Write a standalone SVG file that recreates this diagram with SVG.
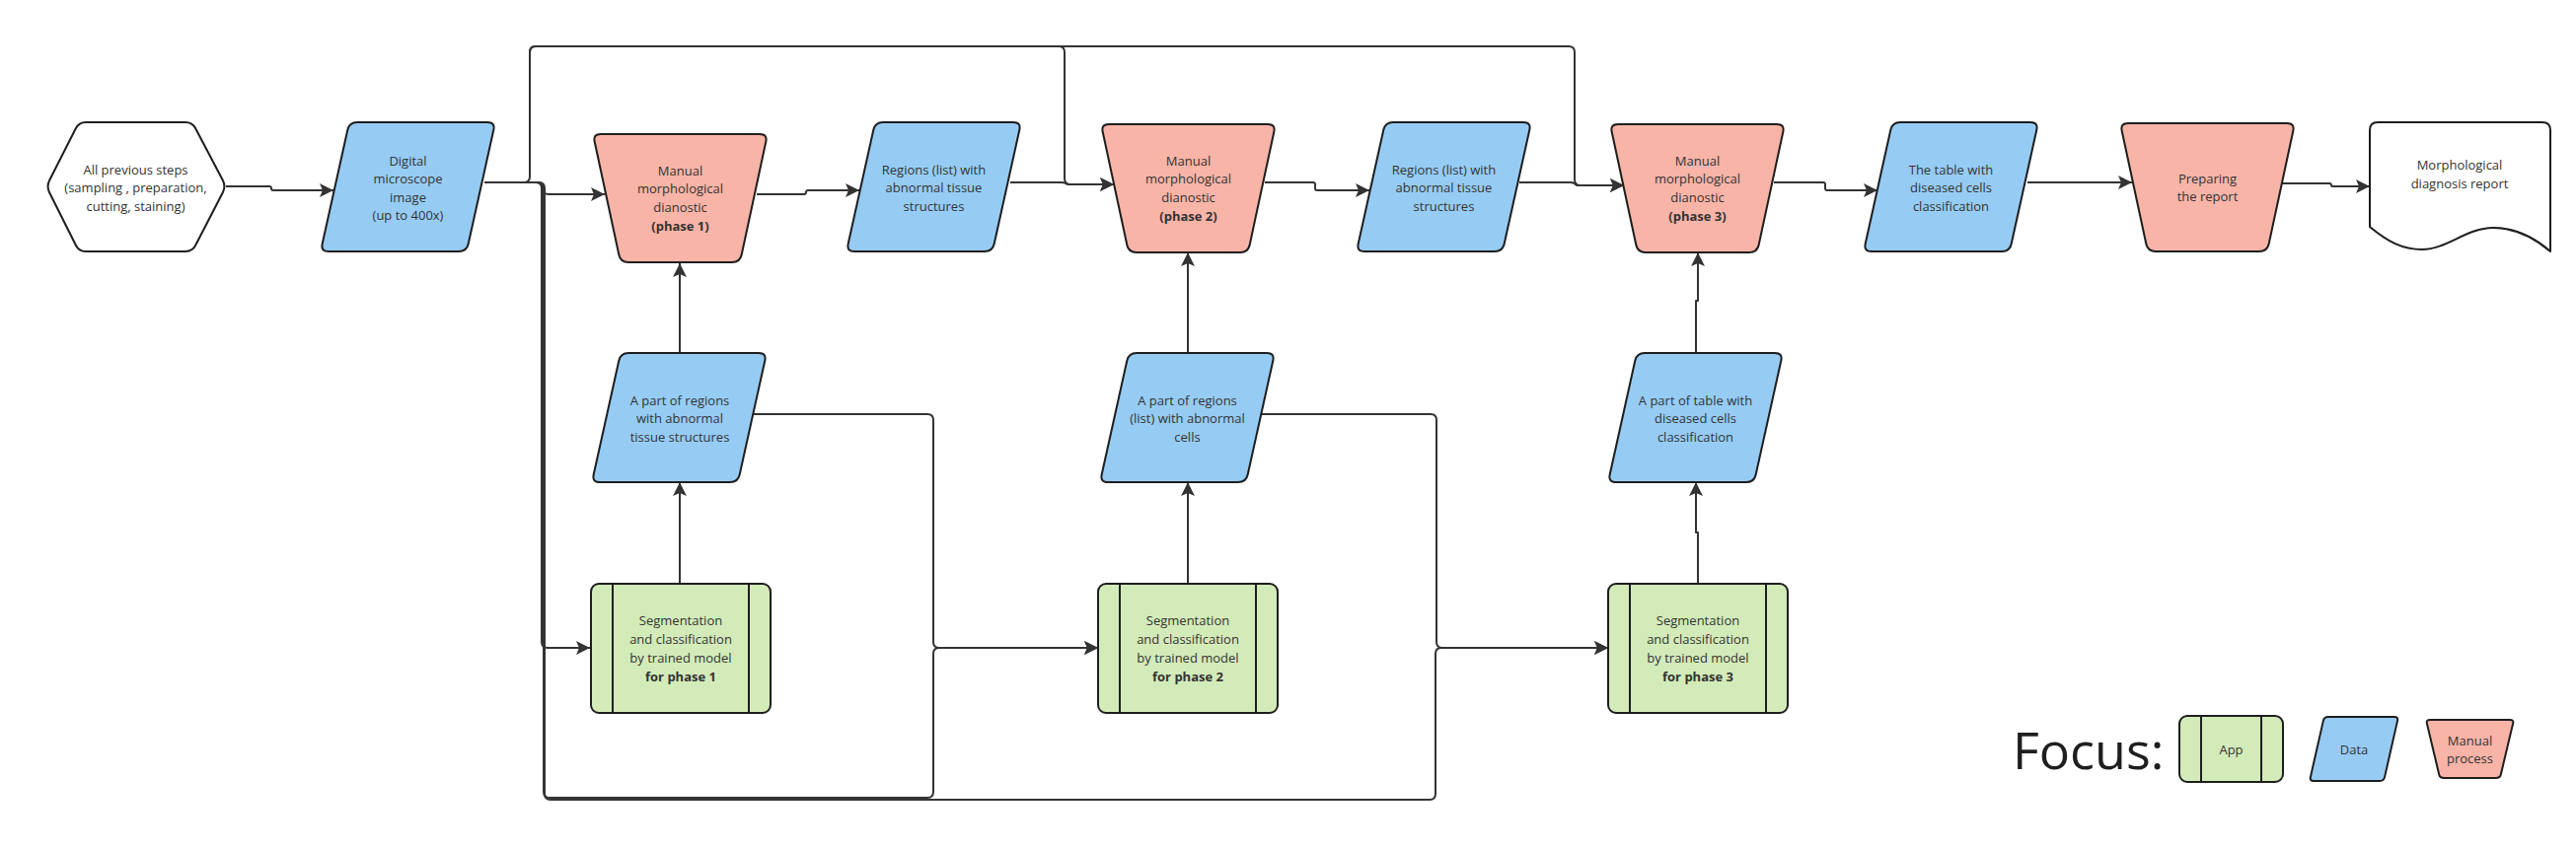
<svg xmlns="http://www.w3.org/2000/svg" xmlns:xlink="http://www.w3.org/1999/xlink" width="2611" height="861" viewBox="0 0 2611 861">
<style>
  .shape{stroke:#1e1e1e;stroke-width:2;stroke-linejoin:round}
  .data{fill:#96CCF4}
  .manual{fill:#F8B4A7}
  .app{fill:#D3EBB9}
  .plain{fill:#ffffff}
  .t{font-family:"Open Sans","Liberation Sans",sans-serif;font-size:13px;fill:#333333;text-anchor:middle}
  .b{font-weight:bold}
  .conn path{fill:none;stroke:#333333;stroke-width:2;stroke-linejoin:round}
  .arr{marker-end:url(#ah)}
</style>
<defs>
  <marker id="ah" markerWidth="16" markerHeight="16" refX="14" refY="7" orient="auto" markerUnits="userSpaceOnUse">
    <path d="M0,0 L14,7 L0,14 L3,7 Z" fill="#333333"/>
  </marker>
  <path id="para" vector-effect="non-scaling-stroke" d="M37,0 L169,0 Q177,0 175.3,7.8 L149.7,123.2 Q148,131 140,131 L8,131 Q0,131 1.7,123.2 L27.3,7.8 Q29,0 37,0 Z"/>
  <path id="trap" vector-effect="non-scaling-stroke" d="M8,0 L169,0 Q177,0 175.3,7.8 L150.7,122.2 Q149,130 141,130 L36,130 Q28,130 26.3,122.2 L1.7,7.8 Q0,0 8,0 Z"/>
</defs>
<rect width="2611" height="861" fill="#ffffff"/>

<g id="connectors" class="conn">
  <path class="arr" d="M229,189 H273 Q275,189 275,191 Q275,193 277,193 H338"/>
  <path class="arr" d="M491,185 H544 Q550,185 550,191 Q550,197 556,197 H613"/>
  <path class="arr" d="M491,185 H543 Q549,185 549,191 V651 Q549,657 555,657 H598"/>
  <path class="arr" d="M491,185 H545 Q551,185 551,191 V803 Q551,809 557,809 H940 Q946,809 946,803 V663 Q946,657 952,657 H1113"/>
  <path class="arr" d="M491,185 H546 Q552,185 552,191 V805 Q552,811 558,811 H1449 Q1455,811 1455,805 V663 Q1455,657 1461,657 H1630"/>
  <path class="arr" d="M491,185 H531 Q537,185 537,179 V53 Q537,47 543,47 H1073 Q1079,47 1079,53 V181 Q1079,187 1085,187 H1129"/>
  <path class="arr" d="M537,60 V53 Q537,47 543,47 H1590 Q1596,47 1596,53 V182 Q1596,188 1602,188 H1646"/>
  <path class="arr" d="M767,197 H815 Q817,197 817,195 Q817,193 819,193 H871"/>
  <path class="arr" d="M1024,185 H1076 Q1080,185 1082,187 H1129"/>
  <path class="arr" d="M1282,185 H1331 Q1333,185 1333,187 V191 Q1333,193 1335,193 H1388"/>
  <path class="arr" d="M1540,185 H1592 Q1596,185 1598,188 H1646"/>
  <path class="arr" d="M1798,185 H1848 Q1850,185 1850,187 V191 Q1850,193 1852,193 H1903"/>
  <path class="arr" d="M2055,185 H2161"/>
  <path class="arr" d="M2313,186 H2361 Q2363,186 2363,188 Q2363,189 2365,189 H2402"/>
  <path class="arr" d="M689,358 V267"/>
  <path class="arr" d="M689,592 V489"/>
  <path class="arr" d="M764,420 H940 Q946,420 946,426 V651 Q946,657 952,657 H1113"/>
  <path class="arr" d="M1204,358 V256"/>
  <path class="arr" d="M1204,592 V489"/>
  <path class="arr" d="M1279,420 H1450 Q1456,420 1456,426 V651 Q1456,657 1462,657 H1630"/>
  <path class="arr" d="M1721,592 V540 H1719 V489"/>
  <path class="arr" d="M1719,358 V305 H1721 V256"/>
</g>

<g id="n-previous">
  <path class="shape plain" d="M87,124 L188,124 Q195,124 198.2,130.2 L225.8,182.8 Q229,189 225.8,195.2 L198.2,248.8 Q195,255 188,255 L87,255 Q80,255 76.9,248.7 L50.1,195.3 Q47,189 50.2,182.8 L76.8,130.2 Q80,124 87,124 Z"/>
  <text class="t" x="137.5" y="176.5">All previous steps</text>
  <text class="t" x="137.5" y="195">(sampling , preparation,</text>
  <text class="t" x="137.5" y="213.5">cutting, staining)</text>
</g>

<g id="n-digital">
  <use href="#para" class="shape data" transform="translate(325,124)"/>
  <text class="t" x="413.5" y="167.5">Digital</text>
  <text class="t" x="413.5" y="186">microscope</text>
  <text class="t" x="413.5" y="204.5">image</text>
  <text class="t" x="413.5" y="223">(up to 400x)</text>
</g>

<g id="n-phase1">
  <use href="#trap" class="shape manual" transform="translate(601,136)"/>
  <text class="t" x="689.5" y="177.5">Manual</text>
  <text class="t" x="689.5" y="196">morphological</text>
  <text class="t" x="689.5" y="214.5">dianostic</text>
  <text class="t b" x="689.5" y="233.5">(phase 1)</text>
</g>

<g id="n-regions1">
  <use href="#para" class="shape data" transform="translate(858,124)"/>
  <text class="t" x="946.5" y="176.5">Regions (list) with</text>
  <text class="t" x="946.5" y="195">abnormal tissue</text>
  <text class="t" x="946.5" y="213.5">structures</text>
</g>

<g id="n-phase2">
  <use href="#trap" class="shape manual" transform="translate(1116,126)"/>
  <text class="t" x="1204.5" y="167.5">Manual</text>
  <text class="t" x="1204.5" y="186">morphological</text>
  <text class="t" x="1204.5" y="204.5">dianostic</text>
  <text class="t b" x="1204.5" y="223.5">(phase 2)</text>
</g>

<g id="n-regions2">
  <use href="#para" class="shape data" transform="translate(1375,124)"/>
  <text class="t" x="1463.5" y="176.5">Regions (list) with</text>
  <text class="t" x="1463.5" y="195">abnormal tissue</text>
  <text class="t" x="1463.5" y="213.5">structures</text>
</g>

<g id="n-phase3">
  <use href="#trap" class="shape manual" transform="translate(1632,126)"/>
  <text class="t" x="1720.5" y="167.5">Manual</text>
  <text class="t" x="1720.5" y="186">morphological</text>
  <text class="t" x="1720.5" y="204.5">dianostic</text>
  <text class="t b" x="1720.5" y="223.5">(phase 3)</text>
</g>

<g id="n-table">
  <use href="#para" class="shape data" transform="translate(1889,124)"/>
  <text class="t" x="1977.5" y="176.5">The table with</text>
  <text class="t" x="1977.5" y="195">diseased cells</text>
  <text class="t" x="1977.5" y="213.5">classification</text>
</g>

<g id="n-preparing">
  <use href="#trap" class="shape manual" transform="translate(2149,125)"/>
  <text class="t" x="2237.5" y="185.5">Preparing</text>
  <text class="t" x="2237.5" y="204">the report</text>
</g>

<g id="n-report">
  <path class="shape plain" d="M2402,132 Q2402,124 2410,124 L2577,124 Q2585,124 2585,132 L2585,255 C2570,242 2550,231 2527,231 C2500,231 2480,253 2455,253 C2435,253 2420,245 2402,230 Z"/>
  <text class="t" x="2493" y="171.5">Morphological</text>
  <text class="t" x="2493" y="190.5">diagnosis report</text>
</g>

<g id="n-part1">
  <use href="#para" class="shape data" transform="translate(600,358)"/>
  <text class="t" x="689" y="410.5">A part of regions</text>
  <text class="t" x="689" y="429">with abnormal</text>
  <text class="t" x="689" y="447.5">tissue structures</text>
</g>

<g id="n-part2">
  <use href="#para" class="shape data" transform="translate(1115,358)"/>
  <text class="t" x="1203.5" y="410.5">A part of regions</text>
  <text class="t" x="1203.5" y="429">(list) with abnormal</text>
  <text class="t" x="1203.5" y="447.5">cells</text>
</g>

<g id="n-part3">
  <use href="#para" class="shape data" transform="translate(1630,358)"/>
  <text class="t" x="1718.5" y="410.5">A part of table with</text>
  <text class="t" x="1718.5" y="429">diseased cells</text>
  <text class="t" x="1718.5" y="447.5">classification</text>
</g>

<g id="n-app1">
  <rect class="shape app" x="599" y="592" width="182" height="131" rx="8"/>
  <path class="shape" d="M621,592 V723 M759,592 V723" fill="none"/>
  <text class="t" x="690" y="633.5">Segmentation</text>
  <text class="t" x="690" y="652.5">and classification</text>
  <text class="t" x="690" y="671.5">by trained model</text>
  <text class="t b" x="690" y="690.5">for phase 1</text>
</g>

<g id="n-app2">
  <rect class="shape app" x="1113" y="592" width="182" height="131" rx="8"/>
  <path class="shape" d="M1135,592 V723 M1273,592 V723" fill="none"/>
  <text class="t" x="1204" y="633.5">Segmentation</text>
  <text class="t" x="1204" y="652.5">and classification</text>
  <text class="t" x="1204" y="671.5">by trained model</text>
  <text class="t b" x="1204" y="690.5">for phase 2</text>
</g>

<g id="n-app3">
  <rect class="shape app" x="1630" y="592" width="182" height="131" rx="8"/>
  <path class="shape" d="M1652,592 V723 M1790,592 V723" fill="none"/>
  <text class="t" x="1721" y="633.5">Segmentation</text>
  <text class="t" x="1721" y="652.5">and classification</text>
  <text class="t" x="1721" y="671.5">by trained model</text>
  <text class="t b" x="1721" y="690.5">for phase 3</text>
</g>

<g id="legend">
  <text x="2040" y="780" font-family="'Open Sans','Liberation Sans',sans-serif" font-size="52" fill="#1e1e1e">Focus:</text>
  <rect class="shape app" x="2209" y="726" width="105" height="67" rx="8"/>
  <path class="shape" d="M2231,726 V793 M2292,726 V793" fill="none"/>
  <text class="t" x="2261.5" y="764.5">App</text>
  <use href="#para" class="shape data" transform="translate(2341,727) scale(0.508,0.496)"/>
  <text class="t" x="2386" y="764.5">Data</text>
  <use href="#trap" class="shape manual" transform="translate(2459,730) scale(0.503,0.454)"/>
  <text class="t" x="2503.5" y="755.5">Manual</text>
  <text class="t" x="2503.5" y="773.5">process</text>
</g>
</svg>
